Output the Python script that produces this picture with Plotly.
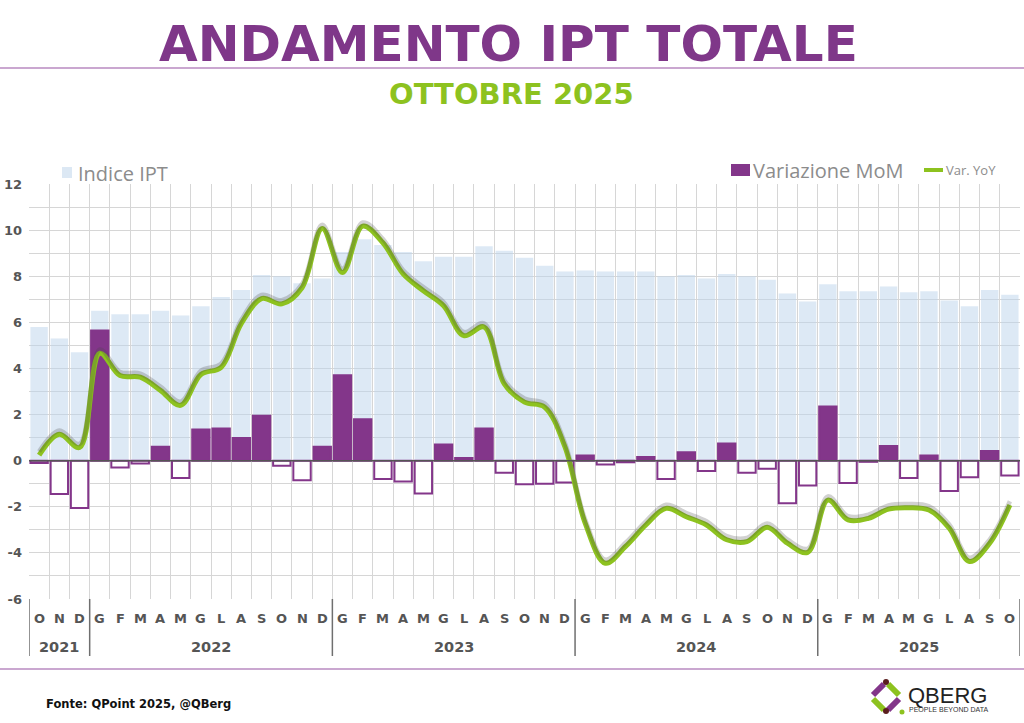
import plotly.graph_objects as go

# ---------------- data ----------------
years = ["2021"] * 3 + ["2022"] * 12 + ["2023"] * 12 + ["2024"] * 12 + ["2025"] * 10
months = (["O", "N", "D"]
          + ["G", "F", "M", "A", "M", "G", "L", "A", "S", "O", "N", "D"] * 3
          + ["G", "F", "M", "A", "M", "G", "L", "A", "S", "O"])

# Indice IPT (drawn on the same scale as in the picture)
indice_ipt = [5.8, 5.3, 4.7,
              6.5, 6.35, 6.35, 6.5, 6.3, 6.7, 7.1, 7.4, 8.05, 8.0, 7.7, 7.9,
              9.05, 9.6, 9.35, 9.05, 8.65, 8.85, 8.85, 9.3, 9.1, 8.8, 8.45, 8.2,
              8.25, 8.2, 8.2, 8.2, 8.0, 8.05, 7.9, 8.1, 8.0, 7.85, 7.25, 6.9,
              7.65, 7.35, 7.35, 7.55, 7.3, 7.35, 6.95, 6.7, 7.4, 7.2]

# Variazione MoM
mom = [-0.1, -1.45, -2.05,
       5.65, -0.3, -0.12, 0.6, -0.75, 1.35, 1.4, 0.98, 1.95, -0.22, -0.85, 0.6,
       3.7, 1.8, -0.8, -0.9, -1.42, 0.7, 0.12, 1.4, -0.52, -1.02, -1.0, -0.95,
       0.22, -0.17, -0.07, 0.16, -0.8, 0.36, -0.45, 0.74, -0.52, -0.35, -1.85, -1.08,
       2.35, -0.97, -0.05, 0.64, -0.75, 0.22, -1.32, -0.72, 0.42, -0.64]

# Var. YoY
yoy = [0.24, 1.15, 0.57,
       4.66, 3.69, 3.62, 3.05, 2.4, 3.74, 4.05, 5.95, 7.03, 6.8, 7.5, 10.07,
       8.16, 10.17, 9.45, 8.1, 7.37, 6.72, 5.42, 5.8, 3.33, 2.54, 2.32, 0.6,
       -2.71, -4.45, -3.72, -2.79, -2.07, -2.43, -2.79, -3.43, -3.51, -2.89, -3.58, -3.98,
       -1.71, -2.57, -2.5, -2.1, -2.04, -2.14, -2.93, -4.37, -3.58, -1.92]

y_ticks = [12, 10, 8, 6, 4, 2, 0, -2, -4, -6]

# ---------------- style ----------------
PURPLE = "#83368a"
GREEN = "#8dc21f"
GRID = "#d6d6d6"
TXT = "#555555"

W, H = 1024, 723
L, R, T, B = 29, 1020, 184, 599


def px(x):
    return (x - L) / (R - L)


def py(y):
    return (B - y) / (B - T)


n = len(months)
xpos = list(range(n))

fig = go.Figure()

fig.add_trace(go.Bar(
    x=xpos, y=indice_ipt, name="Indice IPT", width=0.86,
    marker=dict(color="rgba(190,212,236,0.52)", line=dict(width=0)),
    showlegend=False,
))

fig.add_trace(go.Bar(
    x=xpos, y=mom, name="Variazione MoM", width=0.86,
    marker=dict(color=[PURPLE if v >= 0 else "white" for v in mom],
                line=dict(color=PURPLE, width=2)),
    showlegend=False,
))

# shadow of the YoY line (same data on a slightly shifted y axis)
fig.add_trace(go.Scatter(
    x=xpos, y=yoy, mode="lines", yaxis="y2",
    line=dict(color="rgba(70,70,70,0.25)", width=4.5, shape="spline", smoothing=1.0),
    showlegend=False, hoverinfo="skip",
))

fig.add_trace(go.Scatter(
    x=xpos, y=yoy, mode="lines", name="Var. YoY",
    line=dict(color=GREEN, width=5, shape="spline", smoothing=1.0),
    showlegend=False,
))

shapes = []
# zero line
shapes.append(dict(type="line", xref="paper", yref="y", x0=0, x1=1, y0=0, y1=0,
                   line=dict(color="#555555", width=1.5), layer="above"))
# separator lines
for yy in (68, 669):
    shapes.append(dict(type="line", xref="paper", yref="paper",
                       x0=px(0), x1=px(W), y0=py(yy), y1=py(yy),
                       line=dict(color="#b98ac0", width=1.5)))
# legend markers
shapes.append(dict(type="rect", xref="paper", yref="paper",
                   x0=px(62), x1=px(72), y0=py(178), y1=py(167),
                   fillcolor="#dce8f4", line=dict(width=0)))
shapes.append(dict(type="rect", xref="paper", yref="paper",
                   x0=px(731), x1=px(750), y0=py(176), y1=py(164),
                   fillcolor=PURPLE, line=dict(width=0)))
shapes.append(dict(type="line", xref="paper", yref="paper",
                   x0=px(924), x1=px(943), y0=py(170), y1=py(170),
                   line=dict(color=GREEN, width=4)))

# year dividers below the axis
bounds = [-0.5] + [i - 0.5 for i in range(1, n) if years[i] != years[i - 1]] + [n - 0.5]
for b in bounds:
    shapes.append(dict(type="line", xref="x", yref="paper", x0=b, x1=b,
                       y0=py(599), y1=py(656),
                       line=dict(color="#6f6f6f", width=1.5)))

# logo icon
def seg(a, b, c):
    shapes.append(dict(type="line", xref="paper", yref="paper",
                       x0=px(a[0]), y0=py(a[1]), x1=px(b[0]), y1=py(b[1]),
                       line=dict(color=c, width=6)))
seg((884, 684), (873, 695), PURPLE)
seg((888, 684), (899, 695), GREEN)
seg((873, 699), (884, 710), GREEN)
seg((899, 699), (888, 710), PURPLE)
for (cx, cy, c, r) in [(886, 682, "#5a1e1e", 3), (886, 711, "#5a1e1e", 3), (902, 712, GREEN, 2.5)]:
    shapes.append(dict(type="circle", xref="paper", yref="paper",
                       x0=px(cx - r), x1=px(cx + r), y0=py(cy + r), y1=py(cy - r),
                       fillcolor=c, line=dict(width=0)))

annotations = [
    dict(text="ANDAMENTO IPT TOTALE", x=px(508), y=py(44), xref="paper", yref="paper",
         showarrow=False, xanchor="center", yanchor="middle",
         font=dict(family="DejaVu Sans", size=50, color="#7f3789", weight="bold")),
    dict(text="OTTOBRE 2025", x=px(511), y=py(94), xref="paper", yref="paper",
         showarrow=False, xanchor="center", yanchor="middle",
         font=dict(family="DejaVu Sans", size=29, color=GREEN, weight="bold")),
    dict(text="Indice IPT", x=px(76), y=py(173), xref="paper", yref="paper",
         showarrow=False, xanchor="left", yanchor="middle",
         font=dict(family="Open Sans", size=20, color="#8c8c8c")),
    dict(text="Variazione MoM", x=px(751), y=py(170), xref="paper", yref="paper",
         showarrow=False, xanchor="left", yanchor="middle",
         font=dict(family="Open Sans", size=20, color="#8c8c8c")),
    dict(text="Var. YoY", x=px(944), y=py(170), xref="paper", yref="paper",
         showarrow=False, xanchor="left", yanchor="middle",
         font=dict(family="Open Sans", size=13, color="#8c8c8c")),
    dict(text="<b>Fonte: QPoint 2025, @QBerg</b>", x=px(44), y=py(704), xref="paper", yref="paper",
         showarrow=False, xanchor="left", yanchor="middle",
         font=dict(family="DejaVu Sans", size=11.5, color="#111111")),
    dict(text="QBERG", x=px(906), y=py(695), xref="paper", yref="paper",
         showarrow=False, xanchor="left", yanchor="middle",
         font=dict(family="Liberation Sans Narrow, Liberation Sans", size=22, color="#222222")),
    dict(text="PEOPLE BEYOND DATA", x=px(907), y=py(709), xref="paper", yref="paper",
         showarrow=False, xanchor="left", yanchor="middle",
         font=dict(family="Liberation Sans", size=7, color="#333333")),
]

# month letters and year labels
for i, m in enumerate(months):
    annotations.append(dict(text=m, x=i, y=py(618), xref="x", yref="paper",
                            showarrow=False, xanchor="center", yanchor="middle",
                            font=dict(family="DejaVu Sans", size=13, color=TXT, weight="bold")))
for k in range(len(bounds) - 1):
    yr = years[int(bounds[k] + 0.5)]
    annotations.append(dict(text=yr, x=(bounds[k] + bounds[k + 1]) / 2, y=py(647),
                            xref="x", yref="paper", showarrow=False,
                            xanchor="center", yanchor="middle",
                            font=dict(family="DejaVu Sans", size=14.5, color=TXT, weight="bold")))

fig.update_layout(
    width=W, height=H,
    margin=dict(l=L, r=W - R, t=T, b=H - B, autoexpand=False),
    paper_bgcolor="white", plot_bgcolor="white",
    barmode="overlay",
    showlegend=False,
    shapes=shapes, annotations=annotations,
    xaxis=dict(
        range=[-0.5, n - 0.5], automargin=False,
        tickvals=[i - 0.5 for i in range(n + 1)],
        showticklabels=False,
        showgrid=True, gridcolor=GRID, gridwidth=1,
        ticks="", showline=False, zeroline=False,
    ),
    yaxis=dict(
        range=[-6, 12], automargin=False, tickvals=y_ticks, ticktext=[str(v) for v in y_ticks],
        showgrid=True, gridcolor=GRID, gridwidth=1,
        minor=dict(dtick=1, showgrid=True, gridcolor=GRID, gridwidth=1),
        zeroline=False, showline=False, ticks="",
        tickfont=dict(family="DejaVu Sans", size=13, color=TXT, weight="bold"),
        ticklabelstandoff=6,
    ),
    yaxis2=dict(range=[-6.16, 11.84], overlaying="y", visible=False, automargin=False),
)

fig.write_html("out.html", config={"displayModeBar": False},
               post_script="document.body.style.margin='0';document.body.style.overflow='hidden';")
